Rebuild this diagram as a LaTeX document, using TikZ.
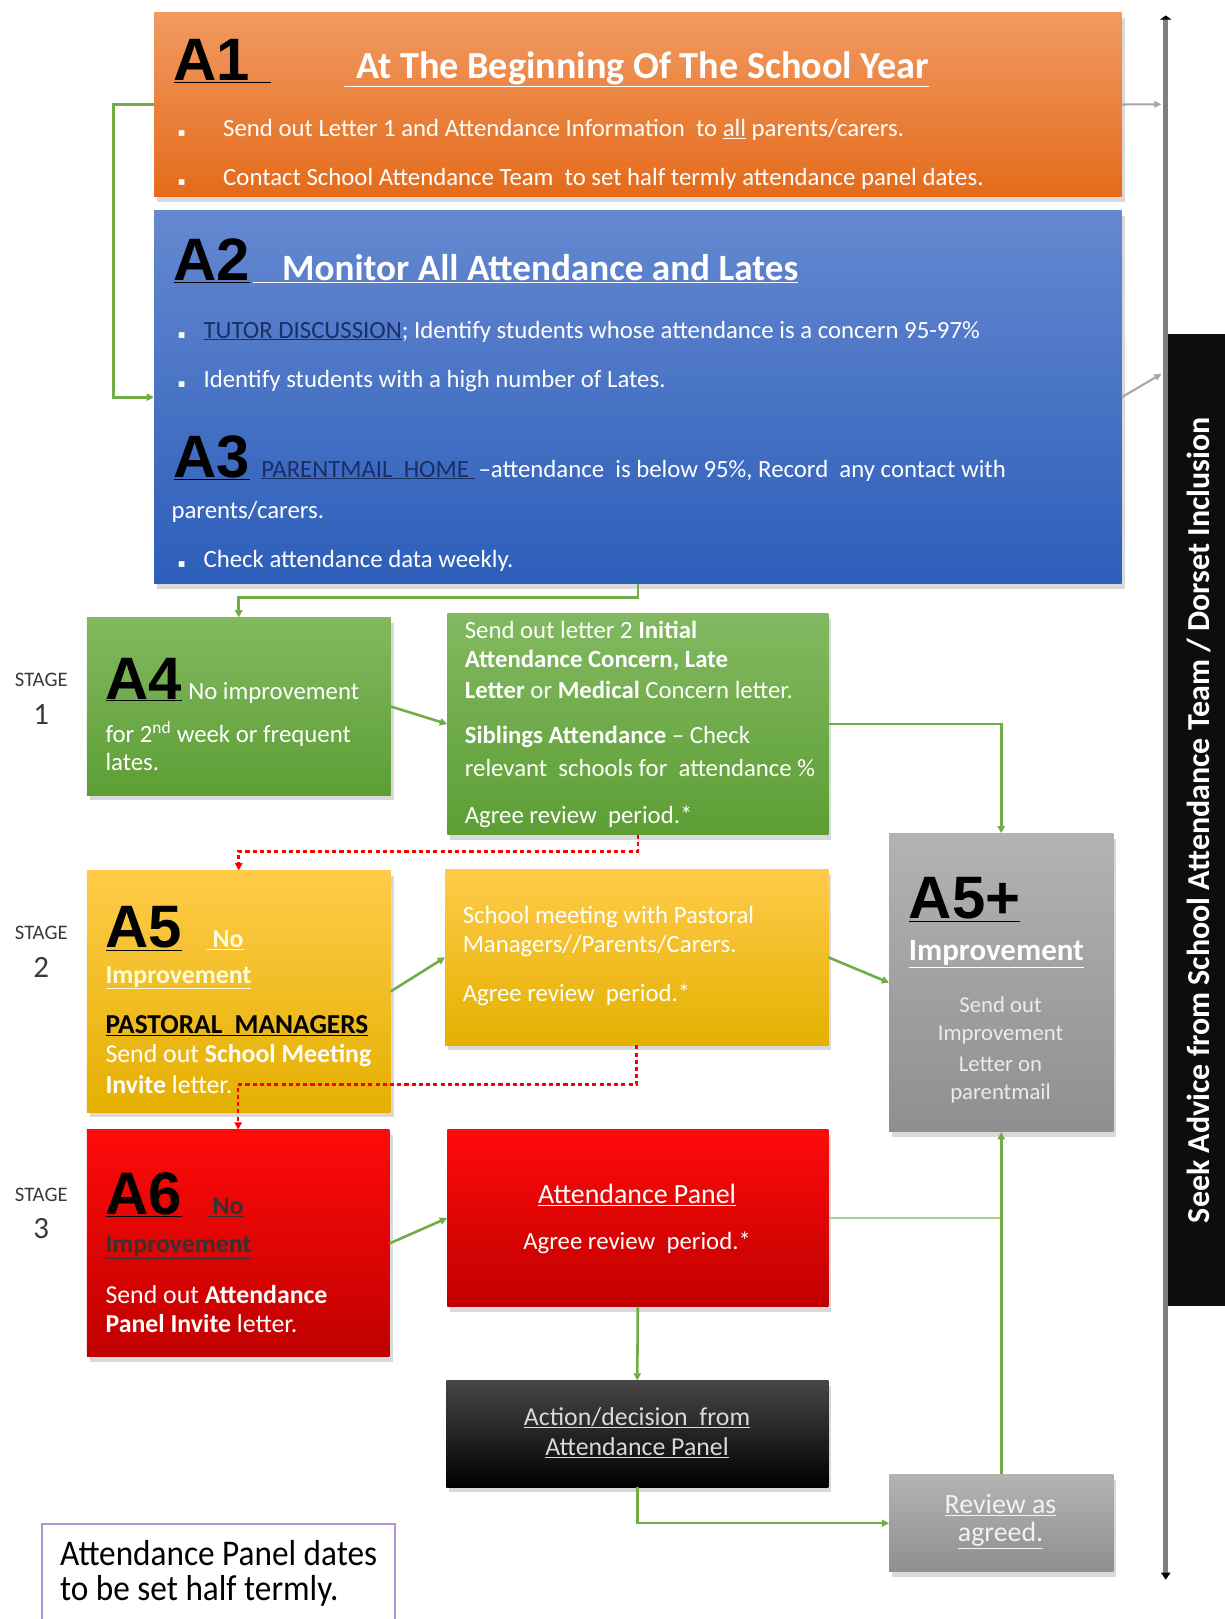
\documentclass[tikz,border=0pt]{standalone}
\usepackage{fontspec}
\setmainfont{Carlito}
\newfontfamily\hdfont{Liberation Sans}
\newfontfamily\symfont{DejaVu Sans}
\newfontfamily\notefont{Carlito}[FakeStretch=0.92]
\usetikzlibrary{arrows.meta,shadows,calc}
\definecolor{orTop}{HTML}{F19A62}
\definecolor{orMid}{HTML}{F47C2B}
\definecolor{orBot}{HTML}{E46B1A}
\definecolor{blTop}{HTML}{6588D0}
\definecolor{blBot}{HTML}{2C5EBA}
\definecolor{grTop}{HTML}{82B961}
\definecolor{grBot}{HTML}{5D9E34}
\definecolor{yeTop}{HTML}{FFCB4A}
\definecolor{yeMid}{HTML}{FFC30A}
\definecolor{yeBot}{HTML}{E4B000}
\definecolor{rdTop}{HTML}{FF0A0A}
\definecolor{rdBot}{HTML}{C00000}
\definecolor{gyTop}{HTML}{B3B3B3}
\definecolor{gyBot}{HTML}{8F8F8F}
\definecolor{bkTop}{HTML}{474747}
\definecolor{navy}{HTML}{1A2F66}
\definecolor{lnGreen}{HTML}{70AD47}
\definecolor{lnLight}{HTML}{A9D08E}
\definecolor{lnGray}{HTML}{A6A6A6}
\definecolor{barGray}{HTML}{7F7F7F}
\definecolor{notePurple}{HTML}{B294D6}
\definecolor{stageGray}{HTML}{3A3A3A}
\newcommand\fsz[1]{\fontsize{#1}{#1}\selectfont}
\newcommand\bigA{\hdfont\bfseries\fontsize{58}{58}\selectfont}
\newcommand\blt[1]{\makebox[#1][l]{{\symfont\fsz{11}▪}}}
\begin{document}
\begin{tikzpicture}[x=1pt,y=-1pt,
  box/.style={anchor=north west, inner sep=0pt, drop shadow={opacity=0.3, shadow xshift=3pt, shadow yshift=-5pt}},
  txt/.style={anchor=west, inner sep=0pt, text=white, font=\fsz{24}},
  btxt/.style={txt, anchor=base west},
  ctxt/.style={txt, anchor=center},
  stg/.style={inner sep=0pt, text=stageGray, anchor=center},
  tip/.style={-{Triangle[length=7pt,width=7pt]}},
  gline/.style={draw=lnGreen, line width=2.5pt, tip},
  rline/.style={draw=red, line width=2.5pt, dash pattern=on 4pt off 3pt, tip},
  gyline/.style={draw=lnGray, line width=2pt, -{Triangle[length=7pt,width=6pt]}}
]
\useasboundingbox (0,0) rectangle (1186,1568);

% vertical bar
\coordinate (bt) at (1129,15);
\coordinate (bb) at (1129,1530);
\draw[draw=barGray, line width=4.5pt, {Triangle[length=4pt,width=11pt,black]}-{Triangle[length=7pt,width=9pt,black]}] (bt) -- (bb);

% boxes
\node[box, top color=orTop, middle color=orMid, bottom color=orBot, minimum width=937pt, minimum height=178pt] (a1) at (149,12) {};
\node[box, top color=blTop, bottom color=blBot, minimum width=937pt, minimum height=361pt] (a2) at (149,204) {};
\node[box, top color=grTop, bottom color=grBot, minimum width=294pt, minimum height=172pt] (a4) at (84,598) {};
\node[box, top color=grTop, bottom color=grBot, minimum width=369pt, minimum height=214pt] (a4b) at (433,594) {};
\node[box, top color=yeTop, middle color=yeMid, bottom color=yeBot, minimum width=294pt, minimum height=234pt] (a5) at (84,843) {};
\node[box, top color=yeTop, middle color=yeMid, bottom color=yeBot, minimum width=371pt, minimum height=170pt] (a5b) at (431,842) {};
\node[box, top color=gyTop, bottom color=gyBot, minimum width=217pt, minimum height=289pt] (a5p) at (861,807) {};
\node[box, top color=rdTop, bottom color=rdBot, minimum width=293pt, minimum height=220pt] (a6) at (84,1094) {};
\node[box, top color=rdTop, bottom color=rdBot, minimum width=369pt, minimum height=171pt] (a6b) at (433,1094) {};
\node[box, top color=bkTop, middle color=black!95, bottom color=black, minimum width=370pt, minimum height=103pt] (blk) at (432,1337) {};
\node[box, top color=gyTop, bottom color=gyBot, minimum width=217pt, minimum height=94pt] (rev) at (861,1428) {};
\node[draw=notePurple, line width=2pt, anchor=north west, inner sep=0pt, minimum width=342pt, minimum height=110pt] (note) at (40,1475) {};
\node[anchor=north west, inner sep=0pt, fill=black!95, minimum width=60pt, minimum height=942pt] (seek) at (1131,323) {};
\node[rotate=90, inner sep=0pt, text=white, font=\fsz{31}\bfseries] (seekt) at (seek.center) {Seek Advice from School Attendance Team / Dorset Inclusion};

% A1 texts
\node[btxt, text=black] (a1h) at (168,78) {\bigA\underline{A1\hspace{20pt}}};
\node[btxt] (a1t) at (333,76) {\fsz{37}\bfseries\underline{\hspace{12pt}At The Beginning Of The School Year}};
\node[txt] (a1l1) at (172,126) {\blt{44pt}Send out Letter 1 and Attendance Information\ \ to \underline{all} parents/carers.};
\node[txt] (a1l2) at (172,173) {\blt{44pt}Contact School Attendance Team\ \ to set half termly attendance panel dates.};

% A2 / A3 texts
\node[btxt, text=black] (a2h) at (168,272) {\bigA\underline{A2}};
\node[btxt] (a2t) at (245,272) {\fsz{36}\bfseries\underline{\hspace{28pt}Monitor All Attendance and Lates}};
\node[txt] (a2l1) at (172,321) {\blt{25pt}{\color{navy}\underline{TUTOR DISCUSSION}}; Identify students whose attendance is a concern 95-97\%};
\node[txt] (a2l2) at (172,369) {\blt{25pt}Identify students with a high number of Lates.};
\node[btxt, text=black] (a3h) at (168,462) {\bigA\underline{A3}};
\node[btxt] (a3t) at (253,462) {{\color{navy}\underline{PARENTMAIL\ \ HOME\ }}\,–attendance\ \ is below 95\%, Record\ \ any contact with};
\node[txt] (a3l2) at (166,496) {parents/carers.};
\node[txt] (a3l3) at (172,543) {\blt{25pt}Check attendance data weekly.};

% stage labels
\node[stg, font=\fsz{20}] (s1a) at (40,658) {STAGE};
\node[stg, font=\fsz{30}] (s1b) at (40,692) {1};
\node[stg, font=\fsz{20}] (s2a) at (40,903) {STAGE};
\node[stg, font=\fsz{30}] (s2b) at (40,937) {2};
\node[stg, font=\fsz{20}] (s3a) at (40,1157) {STAGE};
\node[stg, font=\fsz{30}] (s3b) at (40,1190) {3};

% A4
\node[btxt] (a4h) at (102,677) {{\color{black}\bigA\underline{A4}}\hspace{6pt}No improvement};
\node[txt] (a4l2) at (102,711) {for 2\textsuperscript{nd} week or frequent};
\node[txt] (a4l3) at (102,738) {lates.};
\node[txt] (a4b1) at (450,610) {Send out letter 2 \textbf{Initial}};
\node[txt] (a4b2) at (450,640) {\textbf{Attendance Concern, Late}};
\node[txt] (a4b3) at (450,668) {\textbf{Letter} or \textbf{Medical} Concern letter.};
\node[txt] (a4b4) at (450,714) {\textbf{Siblings Attendance} – Check};
\node[txt] (a4b5) at (450,744) {relevant\ \ schools for\ \ attendance \%};
\node[txt] (a4b6) at (450,791) {Agree review\ \ period.*};

% A5
\node[btxt] (a5h) at (102,918) {{\color{black}\bigA\underline{A5}}\hspace{24pt}{\fsz{25}\bfseries\color{yellow!15}\underline{\ No}}};
\node[txt, text=yellow!15] (a5l2) at (102,947) {\fsz{25}\bfseries\underline{Improvement}};
\node[txt, text=black] (a5l3) at (102,993) {\fsz{26.5}\bfseries\underline{PASTORAL\ \ MANAGERS}};
\node[txt] (a5l4) at (102,1022) {\fsz{25}Send out \textbf{School Meeting}};
\node[txt] (a5l5) at (102,1050) {\fsz{25}\textbf{Invite} letter.};
\node[txt] (a5b1) at (448,888) {School meeting with Pastoral};
\node[txt] (a5b2) at (448,916) {Managers//Parents/Carers.};
\node[txt] (a5b3) at (448,963) {Agree review\ \ period.*};

% A5+
\node[btxt, text=black] (a5ph) at (880,890) {\bigA\underline{A5+}};
\node[txt] (a5pl1) at (880,924) {\fsz{30}\bfseries\underline{Improvement}};
\node[ctxt, text=black!8, font=\fsz{22}] (a5pl2) at (969,973) {Send out};
\node[ctxt, text=black!8, font=\fsz{22}] (a5pl3) at (969,1002) {Improvement};
\node[ctxt, text=black!8, font=\fsz{22}] (a5pl4) at (969,1031) {Letter on};
\node[ctxt, text=black!8, font=\fsz{22}] (a5pl5) at (969,1059) {parentmail};

% A6
\node[btxt] (a6h) at (102,1176) {{\color{black}\bigA\underline{A6}}\hspace{24pt}{\fsz{25}\bfseries\color{black!80}\underline{\ No}}};
\node[txt, text=black!80] (a6l2) at (102,1208) {\fsz{25}\bfseries\underline{Improvement}};
\node[txt] (a6l3) at (102,1254) {\fsz{25}Send out \textbf{Attendance}};
\node[txt] (a6l4) at (102,1282) {\fsz{25}\textbf{Panel Invite} letter.};
\node[ctxt, font=\fsz{27}] (a6b1) at (617,1157) {\underline{Attendance Panel}};
\node[ctxt] (a6b2) at (617,1204) {Agree review\ \ period.*};

% black box / review
\node[ctxt, text=black!15, font=\fsz{25}] (blk1) at (617,1373) {\underline{Action/decision\ \ from}};
\node[ctxt, text=black!15, font=\fsz{25}] (blk2) at (617,1402) {\underline{Attendance Panel}};
\node[ctxt, text=black!5, font=\fsz{27}] (rev1) at (969,1458) {\underline{Review as}};
\node[ctxt, text=black!5, font=\fsz{27}] (rev2) at (969,1487) {\underline{agreed.}};

% note
\node[txt, text=black, font=\notefont\fsz{35}] (note1) at (58,1504) {Attendance Panel dates};
\node[txt, text=black, font=\notefont\fsz{35}] (note2) at (58,1541) {to be set half termly.};

% connectors
\draw[gline] (a1.west) -- ++(-39,0) |- (a2.west);
\draw[gline] (a2.south) -- ++(0,13) -| (a4.north);
\draw[gline] (a4.east) -- (a4b.west);
\draw[gline] (a4b.east) -| (a5p.north);
\draw[rline] (a4b.south) -- ++(0,16) -| (a5.north);
\draw[gline] (a5.east) -- (a5b.west);
\draw[gline] (a5b.east) -- (a5p.west);
\draw[rline] (a5b.south) -- ++(0,38) -| (a6.north);
\draw[gline] (a6.east) -- (a6b.west);
\coordinate (j) at (a5p.south |- a6b.east);
\draw[draw=lnLight, line width=2.5pt] (a6b.east) -- (j);
\draw[gline] (a6b.south) -- (blk.north);
\draw[gline] (blk.south) |- (rev.west);
\draw[gline] (rev.north) -- (a5p.south);
\coordinate (b1) at (1125,101);
\coordinate (b2) at (1125,362);
\draw[gyline] (a1.east) -- (b1);
\draw[gyline] (a2.east) -- (b2);
\end{tikzpicture}
\end{document}
